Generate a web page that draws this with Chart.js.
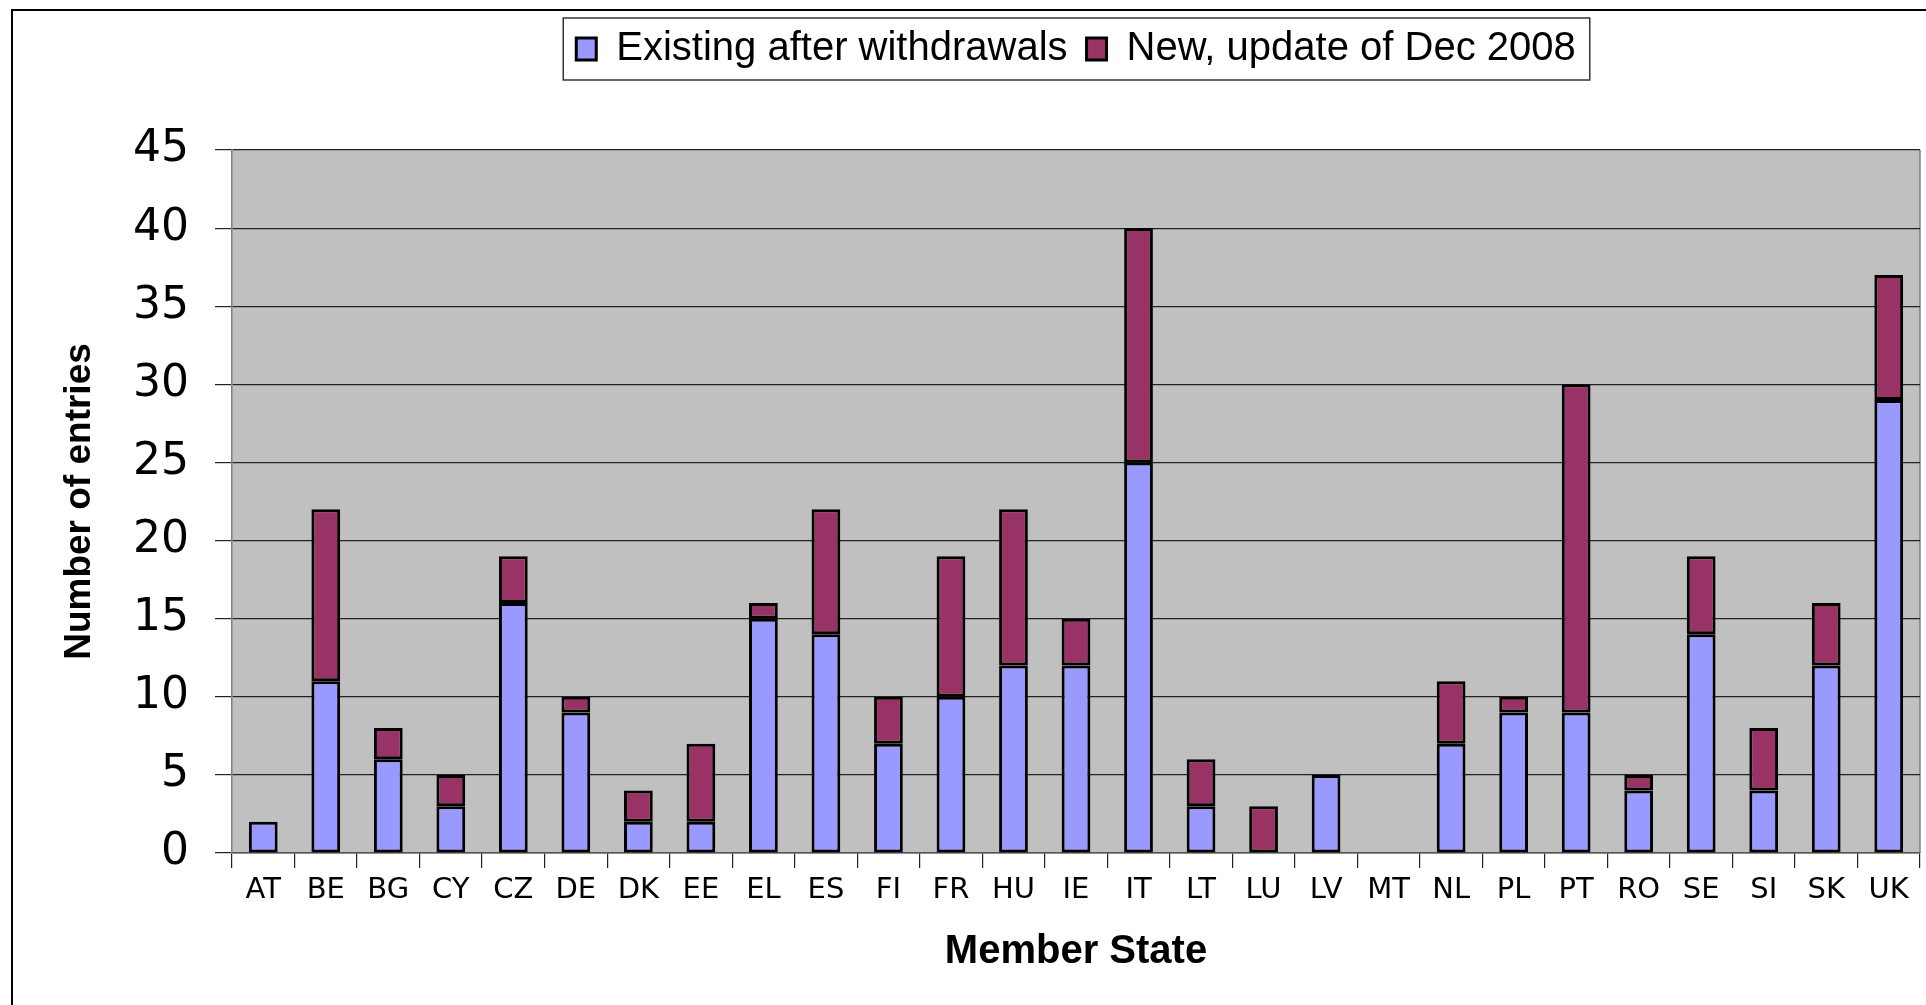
<!DOCTYPE html>
<html>
<head>
<meta charset="utf-8">
<script src="https://cdn.jsdelivr.net/npm/chart.js@4.4.1/dist/chart.umd.min.js"></script>
<style>
    html, body { margin: 0; padding: 0; background: #fff; overflow: hidden; }
    #wrap { position: relative; width: 1926px; height: 1005px; }
    #frame { position: absolute; left: 11px; top: 9px; width: 1930px; height: 1010px; border-left: 2px solid #000; border-top: 2px solid #000; pointer-events: none; }
</style>
</head>
<body>
<div id="wrap">
    <canvas id="chart" width="1926" height="1005"></canvas>
    <div id="frame"></div>
</div>
<script>
const memberStates = ['AT', 'BE', 'BG', 'CY', 'CZ', 'DE', 'DK', 'EE', 'EL', 'ES', 'FI', 'FR', 'HU', 'IE', 'IT', 'LT', 'LU', 'LV', 'MT', 'NL', 'PL', 'PT', 'RO', 'SE', 'SI', 'SK', 'UK'];
const existingAfterWithdrawals = [2, 11, 6, 3, 16, 9, 2, 2, 15, 14, 7, 10, 12, 12, 25, 3, 0, 5, 0, 7, 9, 9, 4, 14, 4, 12, 29];
const newDec2008 = [0, 11, 2, 2, 3, 1, 2, 5, 1, 8, 3, 9, 10, 3, 15, 3, 3, 0, 0, 4, 1, 21, 1, 5, 4, 4, 8];
const seriesLabels = ['Existing after withdrawals', 'New, update of Dec 2008'];

const plotBackground = {
    id: 'plotBackground',
    beforeDraw(chart) {
        const { ctx, chartArea: a } = chart;
        ctx.save();
        ctx.fillStyle = '#c0c0c0';
        ctx.fillRect(a.left, a.top, a.right - a.left, a.bottom - a.top);
        ctx.strokeStyle = '#808080';
        ctx.lineWidth = 1.5;
        ctx.beginPath();
        ctx.moveTo(a.right, a.top);
        ctx.lineTo(a.right, a.bottom);
        ctx.stroke();
        ctx.restore();
    },
};

const legendFrame = {
    id: 'legendFrame',
    afterDraw(chart) {
        const boxes = chart.legend.legendHitBoxes;
        if (! boxes || ! boxes.length) {
            return;
        }
        const left = Math.min(...boxes.map((b) => b.left)) - 13;
        const right = Math.max(...boxes.map((b) => b.left + b.width)) + 14;
        const top = Math.min(...boxes.map((b) => b.top)) - 11;
        const bottom = Math.max(...boxes.map((b) => b.top + b.height)) + 11;
        const { ctx } = chart;
        ctx.save();
        ctx.strokeStyle = '#333';
        ctx.lineWidth = 1.5;
        ctx.strokeRect(left, top, right - left, bottom - top);
        ctx.restore();
    },
};

new Chart(document.getElementById('chart'), {
    type: 'bar',
    data: {
        labels: memberStates,
        datasets: [
            { label: seriesLabels[0], data: existingAfterWithdrawals, backgroundColor: '#9999ff' },
            { label: seriesLabels[1], data: newDec2008, backgroundColor: '#993366' },
        ].map((ds) => ({ ...ds, borderColor: '#000', borderWidth: 3, borderSkipped: false, barPercentage: 0.46, categoryPercentage: 1 })),
    },
    options: {
        responsive: false,
        animation: false,
        layout: { padding: { top: 10, left: 30, right: 6, bottom: 10 } },
        plugins: {
            legend: {
                position: 'top',
                fullSize: false,
                weight: 3000,
                labels: {
                    color: '#000',
                    font: { family: 'Liberation Sans', size: 40 },
                    boxWidth: 20,
                    boxHeight: 22,
                    padding: 19,
                },
            },
            title: {
                display: true,
                text: '',
                fullSize: false,
                font: { size: 10, lineHeight: 1 },
                padding: { top: 0, bottom: 61 },
            },
            tooltip: { enabled: false },
        },
        scales: {
            x: {
                stacked: true,
                grid: { drawOnChartArea: false, drawTicks: true, tickLength: 15, color: '#222', lineWidth: 1.2 },
                border: { color: '#555', width: 1.5 },
                ticks: { color: '#000', font: { family: 'DejaVu Sans', size: 29 }, padding: 5, maxRotation: 0, autoSkip: false },
                title: { display: true, text: 'Member State', color: '#000', font: { family: 'Liberation Sans', size: 40, weight: 'bold' }, padding: { top: 0, bottom: 19 } },
                afterFit: (scale) => { scale.height = 142; },
            },
            y: {
                stacked: true,
                min: 0,
                max: 45,
                grid: { color: '#222', lineWidth: 1.2, drawTicks: true, tickLength: 17 },
                border: { color: '#808080', width: 1.5 },
                ticks: { stepSize: 5, color: '#000', font: { family: 'DejaVu Sans', size: 44 }, padding: 26 },
                title: { display: true, text: 'Number of entries', color: '#000', font: { family: 'Liberation Sans', size: 37, weight: 'bold' }, padding: { top: 28, bottom: 0 } },
                afterFit: (scale) => { scale.width = 202; },
            },
        },
    },
    plugins: [plotBackground, legendFrame],
});
</script>
</body>
</html>
